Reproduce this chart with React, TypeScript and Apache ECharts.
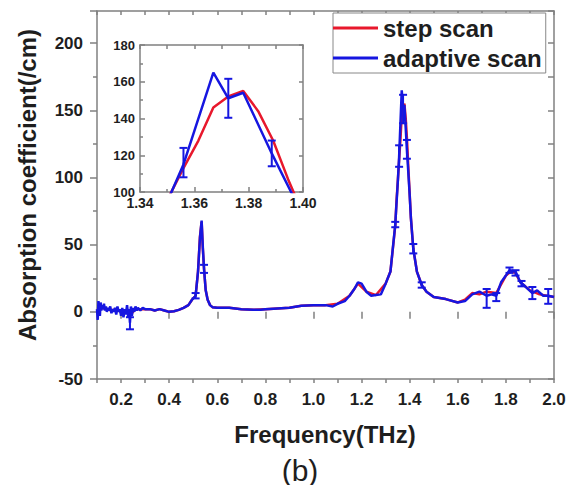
import React, { useEffect, useRef } from "react";
import * as echarts from "echarts";

// ---------- data ----------
const stepScan: [number, number][] = [
  [0.1, 1], [0.12, 3], [0.14, 2], [0.16, 1], [0.18, 2], [0.2, 0], [0.22, 1], [0.24, -2], [0.26, 2],
  [0.28, 2], [0.3, 2], [0.32, 2], [0.34, 1], [0.36, 2], [0.38, 1], [0.4, 0], [0.42, 0.5], [0.44, 1.5],
  [0.46, 3], [0.48, 5], [0.495, 9], [0.51, 12], [0.52, 30], [0.528, 56], [0.535, 67], [0.54, 47],
  [0.545, 32], [0.552, 16], [0.56, 9], [0.57, 5], [0.58, 3.5], [0.6, 3], [0.65, 3], [0.7, 2],
  [0.75, 1.5], [0.8, 2], [0.85, 2.5], [0.9, 3], [0.95, 4.5], [1.0, 5], [1.05, 5], [1.1, 6],
  [1.15, 12], [1.185, 21], [1.22, 15], [1.26, 12.5], [1.3, 21], [1.32, 30], [1.34, 64], [1.345, 82],
  [1.3505, 97], [1.356, 113], [1.3615, 128], [1.367, 146], [1.3725, 152], [1.378, 155], [1.3835, 144],
  [1.389, 128], [1.3945, 107], [1.4, 88], [1.405, 70], [1.415, 47], [1.43, 30], [1.45, 20], [1.47, 15],
  [1.5, 11], [1.55, 9.5], [1.6, 7], [1.63, 9], [1.66, 14], [1.69, 13], [1.72, 15], [1.76, 14],
  [1.8, 27], [1.82, 30], [1.84, 29], [1.86, 22], [1.9, 16], [1.94, 13], [1.97, 12], [2.0, 11],
];

const adaptiveScan: [number, number][] = [
  [0.1, 2], [0.103, -6], [0.106, 8], [0.109, 3], [0.112, -3], [0.115, 7], [0.118, 1], [0.121, 5],
  [0.125, 2], [0.129, 6], [0.133, 1], [0.137, 4], [0.141, 0], [0.145, 3], [0.15, 1], [0.155, 4],
  [0.16, -1], [0.165, 2], [0.17, 0], [0.175, 3], [0.18, -2], [0.185, 4], [0.19, 0], [0.195, 2],
  [0.2, -3], [0.205, 3], [0.21, -4], [0.215, 2], [0.22, -2], [0.225, 5], [0.23, -4], [0.234, 2],
  [0.237, -8], [0.241, 4], [0.245, -3], [0.25, 3], [0.255, 0], [0.26, 4], [0.265, 1], [0.27, 3],
  [0.28, 1], [0.29, 3], [0.3, 2], [0.32, 2], [0.34, 1], [0.36, 2], [0.38, 1], [0.4, 0], [0.42, 0.5],
  [0.44, 1.5], [0.46, 3], [0.48, 5], [0.495, 9], [0.51, 12], [0.52, 30], [0.528, 55], [0.535, 68],
  [0.54, 48], [0.545, 32], [0.552, 16], [0.56, 9], [0.57, 5], [0.58, 3.5], [0.6, 3], [0.65, 3],
  [0.7, 2], [0.75, 1.5], [0.78, 1.5], [0.8, 2], [0.85, 2.5], [0.9, 3], [0.95, 4.5], [1.0, 5],
  [1.05, 5], [1.08, 4], [1.1, 6], [1.13, 8], [1.15, 12], [1.17, 17], [1.185, 22], [1.2, 21],
  [1.22, 15], [1.24, 12], [1.26, 12.5], [1.28, 13], [1.3, 21], [1.32, 30], [1.34, 65], [1.351, 98],
  [1.356, 115], [1.367, 165], [1.3725, 151], [1.378, 154], [1.3885, 121], [1.399, 90], [1.405, 70],
  [1.415, 47], [1.43, 30], [1.45, 20], [1.47, 15], [1.5, 11], [1.55, 9.5], [1.6, 7], [1.63, 8],
  [1.66, 13], [1.69, 15], [1.72, 12], [1.74, 13], [1.76, 12], [1.78, 22], [1.8, 27], [1.815, 31],
  [1.84, 30], [1.86, 22], [1.88, 19], [1.91, 14], [1.93, 16], [1.955, 12], [1.976, 12], [2.0, 11],
];

// [frequency, value, half-length]
const errorBars: [number, number, number][] = [
  [0.237, -8.5, 4.5], [0.51, 12, 2], [0.545, 32, 3], [1.34, 65, 2], [1.356, 116, 8],
  [1.3725, 151, 10.6], [1.3885, 121, 7], [1.415, 47, 3.5], [1.45, 20, 2], [1.72, 10, 7],
  [1.76, 11, 3], [1.815, 31, 2], [1.84, 29, 2], [1.865, 21, 2], [1.91, 14, 4.5], [1.976, 11.5, 5.5],
];

const mainLongTicks = [0.2, 0.4, 0.6, 0.8, 1.0, 1.2, 1.4, 1.6, 1.8, 2.0];

const FONT = "'Liberation Sans', Arial, sans-serif";
const AXIS = "#808080";
const BLUE = "#1616e0";
const RED = "#e8182c";
const TXT = "#1e1e1e";

function errRender(params: any, api: any) {
  const x = api.value(0);
  const y = api.value(1);
  const d = api.value(2);
  const top = api.coord([x, y + d]);
  const bot = api.coord([x, y - d]);
  const w = 4;
  const st = { stroke: BLUE, lineWidth: 2 };
  return {
    type: "group",
    children: [
      { type: "line", shape: { x1: top[0], y1: top[1], x2: bot[0], y2: bot[1] }, style: st },
      { type: "line", shape: { x1: top[0] - w, y1: top[1], x2: top[0] + w, y2: top[1] }, style: st },
      { type: "line", shape: { x1: bot[0] - w, y1: bot[1], x2: bot[0] + w, y2: bot[1] }, style: st },
    ],
  };
}

const lineAxis = { show: true, onZero: false, lineStyle: { color: AXIS, width: 1.5 } };
const tickStyle = { color: AXIS, width: 1.5 };

export default function App() {
  const ref = useRef<HTMLDivElement>(null);
  useEffect(() => {
    if (!ref.current) return;
    const chart = echarts.init(ref.current, undefined, { renderer: "svg" });
    const mainLabel = { fontSize: 17, fontWeight: "bold", color: TXT, fontFamily: FONT };
    const insetLabel = { fontSize: 14, fontWeight: "bold", color: TXT, fontFamily: FONT };
    const option: any = {
      animation: false,
      backgroundColor: "#fff",
      textStyle: { fontFamily: FONT },
      grid: [
        { left: 97, top: 11, width: 457, height: 368, show: false },
        { left: 140, top: 45, width: 163, height: 147, show: true, backgroundColor: "#fff", borderWidth: 0 },
      ],
      legend: {
        orient: "vertical",
        left: 333,
        top: 13,
        padding: [3, 4, 3, 0],
        itemGap: 6,
        itemWidth: 45,
        itemHeight: 3,
        icon: "rect",
        backgroundColor: "#fff",
        borderColor: "#888",
        borderWidth: 1,
        textStyle: { fontSize: 24, fontWeight: "bold", color: TXT, fontFamily: FONT },
        data: ["step scan", "adaptive scan"],
        z: 10,
      },
      xAxis: [
        {
          type: "value", gridIndex: 0, position: "bottom", min: 0.1, max: 2.0, interval: 0.1,
          axisLine: lineAxis,
          axisTick: { show: true, length: 4, lineStyle: tickStyle },
          axisLabel: {
            ...mainLabel, margin: 12,
            formatter: (v: number) => (Math.round(v * 10) % 2 === 0 ? v.toFixed(1) : ""),
          },
          splitLine: { show: false },
        },
        {
          type: "value", gridIndex: 0, position: "bottom", min: 0.1, max: 2.0, interval: 0.1,
          axisLine: { show: false },
          axisTick: { show: true, length: 7, lineStyle: tickStyle, customValues: mainLongTicks },
          axisLabel: { show: false },
          splitLine: { show: false },
        },
        {
          type: "value", gridIndex: 0, position: "top", min: 0.1, max: 2.0, interval: 0.1,
          axisLine: lineAxis,
          axisTick: { show: true, inside: true, length: 4, lineStyle: tickStyle },
          axisLabel: { show: false },
          splitLine: { show: false },
        },
        {
          type: "value", gridIndex: 1, position: "bottom", min: 1.34, max: 1.4, interval: 0.02,
          axisLine: lineAxis,
          axisTick: { show: true, inside: true, length: 5, lineStyle: tickStyle },
          minorTick: { show: true, splitNumber: 2, length: 3, lineStyle: tickStyle },
          axisLabel: { ...insetLabel, margin: 4, formatter: (v: number) => v.toFixed(2) },
          splitLine: { show: false },
        },
        {
          type: "value", gridIndex: 1, position: "top", min: 1.34, max: 1.4, interval: 0.01,
          axisLine: lineAxis,
          axisTick: { show: true, inside: true, length: 4, lineStyle: tickStyle },
          axisLabel: { show: false },
          splitLine: { show: false },
        },
      ],
      yAxis: [
        {
          type: "value", gridIndex: 0, position: "left", min: -50, max: 224, interval: 50,
          axisLine: lineAxis,
          axisTick: { show: true, length: 7, lineStyle: tickStyle },
          minorTick: { show: true, splitNumber: 2, length: 4, lineStyle: tickStyle },
          axisLabel: { ...mainLabel, margin: 14, showMaxLabel: false },
          splitLine: { show: false },
        },
        {
          type: "value", gridIndex: 0, position: "right", min: -50, max: 224, interval: 25,
          axisLine: lineAxis,
          axisTick: { show: true, inside: true, length: 6, lineStyle: tickStyle },
          axisLabel: { show: false },
          splitLine: { show: false },
        },
        {
          type: "value", gridIndex: 1, position: "left", min: 100, max: 180, interval: 20,
          axisLine: lineAxis,
          axisTick: { show: true, inside: true, length: 5, lineStyle: tickStyle },
          minorTick: { show: true, splitNumber: 2, length: 3, lineStyle: tickStyle },
          axisLabel: { ...insetLabel, fontSize: 13, margin: 5 },
          splitLine: { show: false },
        },
        {
          type: "value", gridIndex: 1, position: "right", min: 100, max: 180, interval: 20,
          axisLine: lineAxis,
          axisTick: { show: true, inside: true, length: 4, lineStyle: tickStyle },
          axisLabel: { show: false },
          splitLine: { show: false },
        },
      ],
      series: [
        {
          name: "step scan", type: "line", xAxisIndex: 0, yAxisIndex: 0, data: stepScan,
          showSymbol: false, symbol: "none", color: RED, lineStyle: { color: RED, width: 2.5 }, z: 2,
        },
        {
          name: "adaptive scan", type: "line", xAxisIndex: 0, yAxisIndex: 0, data: adaptiveScan,
          showSymbol: false, symbol: "none", color: BLUE, lineStyle: { color: BLUE, width: 2.5 }, z: 3,
        },
        {
          type: "custom", xAxisIndex: 0, yAxisIndex: 0, data: errorBars, renderItem: errRender,
          encode: { x: 0, y: 1 }, clip: true, z: 4, silent: true,
        },
        {
          name: "step scan", type: "line", xAxisIndex: 3, yAxisIndex: 2, data: stepScan,
          showSymbol: false, symbol: "none", color: RED, lineStyle: { color: RED, width: 2.5 }, z: 5,
        },
        {
          name: "adaptive scan", type: "line", xAxisIndex: 3, yAxisIndex: 2, data: adaptiveScan,
          showSymbol: false, symbol: "none", color: BLUE, lineStyle: { color: BLUE, width: 2.5 }, z: 6,
        },
        {
          type: "custom", xAxisIndex: 3, yAxisIndex: 2, data: errorBars, renderItem: errRender,
          encode: { x: 0, y: 1 }, clip: true, z: 7, silent: true,
        },
      ],
      graphic: [
        {
          type: "text", x: 27, y: 185, rotation: Math.PI / 2,
          style: {
            text: "Absorption coefficient(/cm)", fontSize: 24, fontWeight: "bold", fontFamily: FONT,
            fill: TXT, align: "center", verticalAlign: "middle", textAlign: "center", textVerticalAlign: "middle",
          },
        },
        {
          type: "text", x: 325, y: 434,
          style: {
            text: "Frequency(THz)", fontSize: 24, fontWeight: "bold", fontFamily: FONT,
            fill: TXT, align: "center", verticalAlign: "middle", textAlign: "center", textVerticalAlign: "middle",
          },
        },
        {
          type: "text", x: 300, y: 470,
          style: {
            text: "(b)", fontSize: 30, fontWeight: "normal", fontFamily: FONT,
            fill: TXT, align: "center", verticalAlign: "middle", textAlign: "center", textVerticalAlign: "middle",
          },
        },
      ],
    };
    chart.setOption(option);
    return () => chart.dispose();
  }, []);
  return (
    <div
      ref={ref}
      style={{ position: "absolute", left: 0, top: 0, width: 579, height: 485 }}
    />
  );
}
